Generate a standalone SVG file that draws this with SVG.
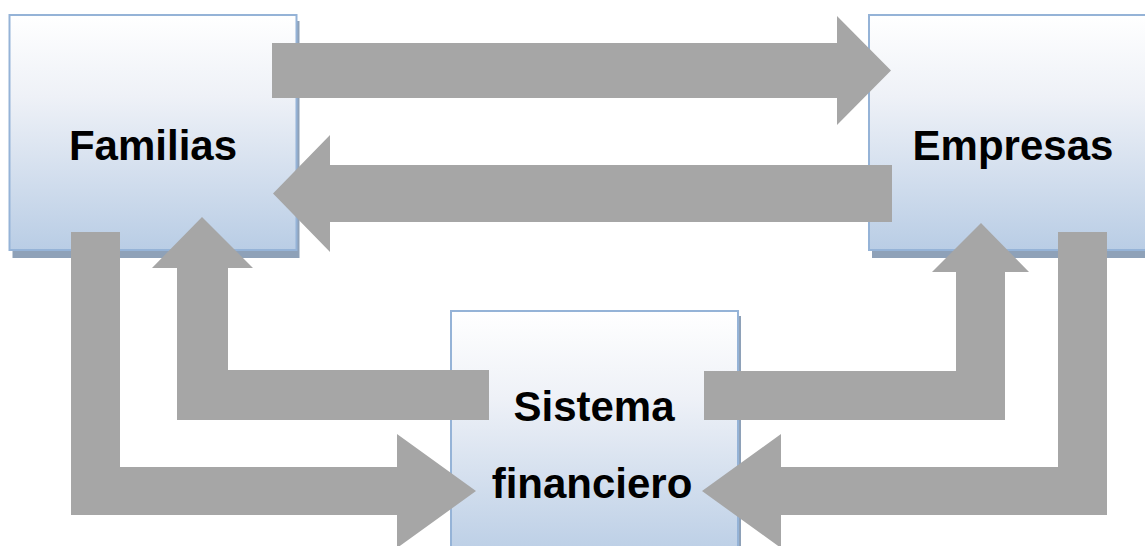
<svg xmlns="http://www.w3.org/2000/svg" width="1145" height="546" viewBox="0 0 1145 546">
<defs>
<linearGradient id="g" x1="0" y1="0" x2="0" y2="1">
<stop offset="0" stop-color="#ffffff"/>
<stop offset="0.35" stop-color="#eef1f7"/>
<stop offset="1" stop-color="#b9cde5"/>
</linearGradient>
<style>
.shadow{fill:#8ea1b8}
.box{fill:url(#g);stroke:#95b3d7;stroke-width:2}
.arrow{fill:#a6a6a6}
.lbl{font-family:"Liberation Sans",Arial,sans-serif;font-weight:bold;font-size:42px;fill:#000;text-anchor:middle}
</style>
</defs>
<rect width="1145" height="546" fill="#ffffff"/>
<g id="familias">
<rect class="shadow" x="12.5" y="21" width="287" height="237"/>
<rect class="box" x="9.5" y="15" width="287" height="235"/>
</g>
<g id="empresas">
<rect class="shadow" x="872" y="21" width="290" height="237"/>
<rect class="box" x="869" y="15" width="290" height="235"/>
</g>
<g id="sistema">
<rect class="shadow" x="454" y="316" width="287" height="250"/>
<rect class="box" x="451" y="311" width="287" height="250"/>
</g>
<g id="connectors">
<polygon class="arrow" points="272,43 837,43 837,16 891,70.5 837,125 837,98 272,98"/>
<polygon class="arrow" points="892,165 330,165 330,135 273,193.5 330,252 330,222 892,222"/>
<polygon class="arrow" points="71,232 120,232 120,467 397,467 397,434 476,491 397,548 397,515 71,515"/>
<polygon class="arrow" points="489,370 228,370 228,268 253,268 202,217 152,268 177,268 177,420 489,420"/>
<polygon class="arrow" points="704,371 956,371 956,272 932,272 981,223 1029,272 1005,272 1005,420 704,420"/>
<polygon class="arrow" points="1058,232 1107,232 1107,515 781,515 781,548 702,491 781,434 781,467 1058,467"/>
</g>
<g id="labels">
<text class="lbl" x="153" y="160">Familias</text>
<text class="lbl" x="1013" y="160">Empresas</text>
<text class="lbl" x="594" y="421">Sistema</text>
<text class="lbl" x="592" y="498">financiero</text>
</g>
</svg>
